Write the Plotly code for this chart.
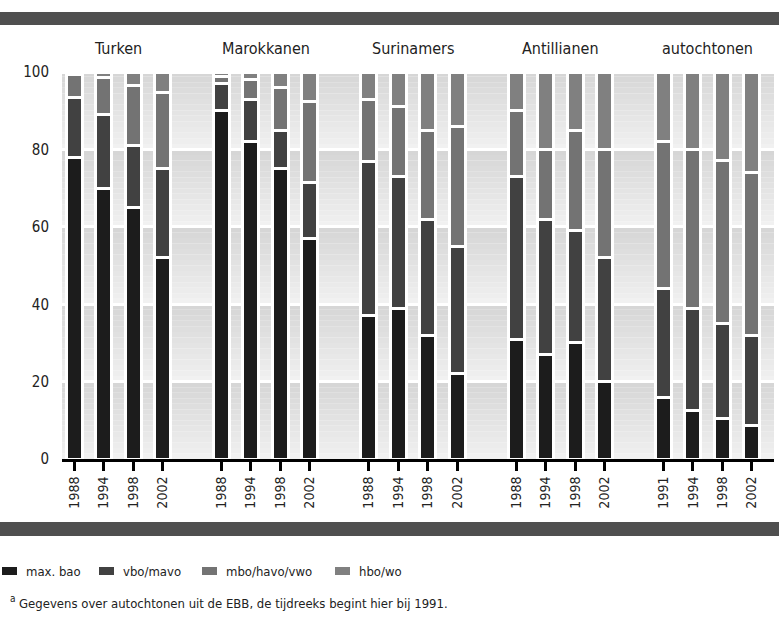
import plotly.graph_objects as go

# data (percentages per education level)
groups = ["Turken", "Marokkanen", "Surinamers", "Antillianen", "autochtonen"]
years = [
    ["1988", "1994", "1998", "2002"],
    ["1988", "1994", "1998", "2002"],
    ["1988", "1994", "1998", "2002"],
    ["1988", "1994", "1998", "2002"],
    ["1991", "1994", "1998", "2002"],
]
levels = ["max. bao", "vbo/mavo", "mbo/havo/vwo", "hbo/wo"]
max_bao = [78, 70, 65, 52, 90, 82, 75, 57, 37, 39, 32, 22, 31, 27, 30, 20, 16, 12.6, 10.5, 8.6]
vbo_mavo = [15.4, 19, 16, 23, 7, 11, 10, 14.5, 40, 34, 30, 33, 42, 35, 29, 32, 28, 26.4, 24.4, 23.4]
mbo_havo_vwo = [6, 9.5, 15.5, 19.8, 2, 5, 11, 21, 16, 18, 23, 31, 17, 18, 26, 28, 38, 41, 42.3, 42]
hbo_wo = [0.6, 1.5, 3.5, 5.2, 1, 2, 4, 7.5, 7, 9, 15, 14, 10, 20, 15, 20, 18, 20, 22.8, 26]
series = [max_bao, vbo_mavo, mbo_havo_vwo, hbo_wo]
colors = ["#1c1c1c", "#414141", "#737373", "#808080"]
footnote = "Gegevens over autochtonen uit de EBB, de tijdreeks begint hier bij 1991."

# x positions: four bars per group, one empty slot between groups
xpos = [g * 5 + i for g in range(len(groups)) for i in range(4)]
xlabels = [y for ys in years for y in ys]

FONT = "Liberation Sans Narrow, DejaVu Sans Condensed, Arial Narrow, sans-serif"

fig = go.Figure()
for name, vals, col in zip(levels, series, colors):
    fig.add_trace(
        go.Bar(
            x=xpos,
            y=vals,
            name=name,
            width=0.543,
            marker=dict(color=col, line=dict(color="white", width=3)),
            showlegend=False,
        )
    )

shapes = []
# gradient background bands
n_strips = 14
for b in range(5):
    lo, hi = b * 20, b * 20 + 20 + (0.3 if b == 4 else 0)
    for s in range(n_strips):
        t = s / (n_strips - 1)
        c = int(0xf1 - (0xf1 - 0xd6) * t)
        shapes.append(dict(
            type="rect", xref="paper", yref="y", layer="below",
            x0=0, x1=1,
            y0=lo + (hi - lo) * s / n_strips, y1=lo + (hi - lo) * (s + 1) / n_strips,
            fillcolor=f"rgb({c},{c},{c})", line=dict(width=0),
        ))

# pixel -> paper helpers (plot area 62..774 x 71..459)
px = 712.0
py = 388.0
def pxx(x):
    return (x - 62) / px

def pyy(y):
    return (459 - y) / py

# dark bands top and bottom
for y0, y1 in [(12, 25), (522, 536)]:
    shapes.append(dict(
        type="rect", xref="paper", yref="paper",
        x0=pxx(0), x1=pxx(779), y0=pyy(y1), y1=pyy(y0),
        fillcolor="#4f4f4f", line=dict(width=0),
    ))

annotations = []
for g, name in enumerate(groups):
    annotations.append(dict(
        x=g * 5 + 1.5, y=pyy(49), xref="x", yref="paper", yanchor="middle",
        text=name, showarrow=False, font=dict(size=16, color="#222", family=FONT),
    ))

# legend
leg_x = [2, 99, 202, 335]
for lx, name, col in zip(leg_x, levels, colors):
    shapes.append(dict(
        type="rect", xref="paper", yref="paper",
        x0=pxx(lx), x1=pxx(lx + 15), y0=pyy(575), y1=pyy(567),
        fillcolor=col, line=dict(width=0),
    ))
    annotations.append(dict(
        x=pxx(lx + 22), y=pyy(571), xref="paper", yref="paper",
        text=name, showarrow=False, xanchor="left", yanchor="middle",
        font=dict(size=13, color="#222", family=FONT),
    ))

# footnote with superscript marker
annotations.append(dict(
    x=pxx(8), y=pyy(598), xref="paper", yref="paper",
    text="a", showarrow=False, xanchor="left", yanchor="middle",
    font=dict(size=10, color="#222", family=FONT),
))
annotations.append(dict(
    x=pxx(17), y=pyy(603), xref="paper", yref="paper",
    text=footnote, showarrow=False, xanchor="left", yanchor="middle",
    font=dict(size=13, color="#222", family=FONT),
))

fig.update_layout(
    barmode="stack",
    width=779,
    height=617,
    margin=dict(l=62, r=5, t=71, b=158),
    paper_bgcolor="white",
    plot_bgcolor="white",
    shapes=shapes,
    annotations=annotations,
    font=dict(family=FONT, color="#222"),
)
fig.update_xaxes(
    range=[-0.41, 23.75],
    tickvals=xpos,
    ticktext=xlabels,
    tickangle=-90,
    tickfont=dict(size=14, family=FONT, color="#222"),
    ticks="outside",
    ticklen=9,
    tickwidth=2.5,
    tickcolor="black",
    showline=True,
    linecolor="black",
    linewidth=3,
    showgrid=False,
    zeroline=False,
)
fig.update_yaxes(
    range=[0, 100.3],
    tickvals=[0, 20, 40, 60, 80, 100],
    tickfont=dict(size=15, family=FONT, color="#222"),
    showgrid=True,
    gridcolor="white",
    gridwidth=2.5,
    zeroline=False,
    ticks="",
    ticklabelstandoff=12,
)

fig.write_html(
    "out.html",
    config={"displayModeBar": False},
    post_script="document.body.style.margin='0';",
)
